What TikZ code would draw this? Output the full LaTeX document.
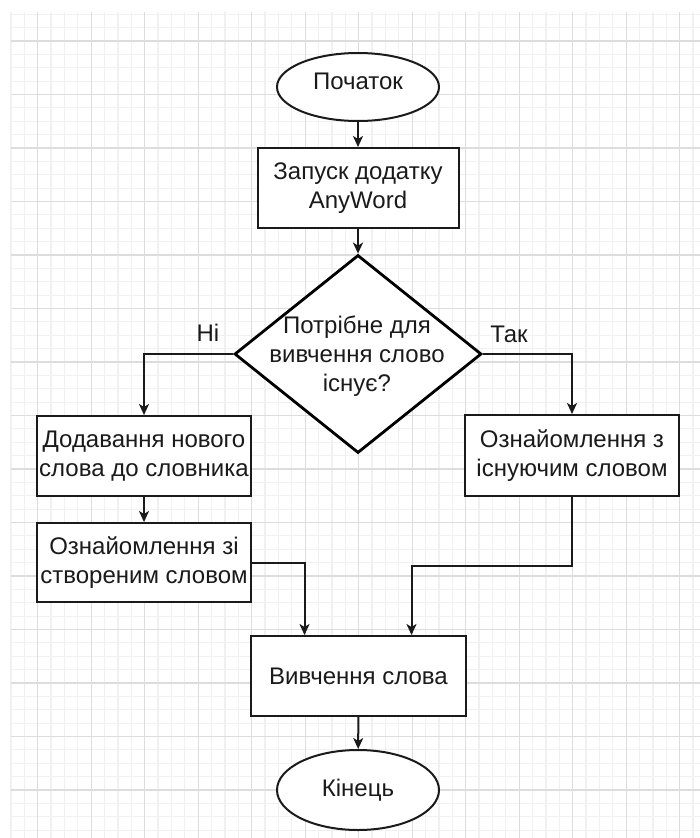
\documentclass[tikz,border=0pt]{standalone}
\usepackage{fontspec}
\setmainfont{Liberation Sans}
\usetikzlibrary{shapes.geometric,arrows.meta,calc}
\definecolor{minorgrid}{HTML}{F1F1F1}
\definecolor{majorgrid}{HTML}{DDDDDD}
\definecolor{ink}{HTML}{1A1A1A}
\tikzset{
  txt/.style={font=\fontsize{24}{29}\selectfont, text=ink, align=center},
  procbox/.style={draw=ink, line width=2pt, fill=white, rectangle, inner sep=0pt, txt},
  term/.style={draw=ink, line width=2pt, fill=white, ellipse, inner sep=0pt, txt},
  decide/.style={draw=black, line width=2.8pt, fill=white, diamond, inner sep=0pt},
  arr/.style={draw=ink, line width=2pt, -{Stealth[length=11pt,width=10pt,inset=3pt]}},
  minorline/.style={draw=minorgrid, line width=1.2pt},
  majorline/.style={draw=majorgrid, line width=1.2pt},
}
\begin{document}
\begin{tikzpicture}[x=1pt,y=-1pt]
\useasboundingbox (0,0) rectangle (700,838);
\fill[white] (0,0) rectangle (700,838);
% grid
\foreach \i in {0,...,51} {
  \draw[minorline] ({10.95+13.375*\i},12) -- ({10.95+13.375*\i},838);
}
\foreach \i in {0,...,61} {
  \draw[minorline] (11,{14.25+13.375*\i}) -- (700,{14.25+13.375*\i});
}
\foreach \i in {0,...,12} {
  \draw[majorline] ({37.7+53.5*\i},12) -- ({37.7+53.5*\i},838);
}
\foreach \i in {0,...,14} {
  \draw[majorline] (11,{41+53.5*\i}) -- (700,{41+53.5*\i});
}
% nodes
\node[term, minimum width=162pt, minimum height=68pt] (start) at (358,87) {};
\node[txt] (starttxt) at (358,81) {Початок};
\node[procbox, minimum width=201pt, minimum height=80pt] (b1) at (358,188) {Запуск додатку\\AnyWord};
\node[decide, minimum width=247pt, minimum height=198pt] (dia) at (358,354) {};
\node[txt] (diatxt) at (357,356) {Потрібне для\\вивчення слово\\існує?};
\node[procbox, minimum width=214pt, minimum height=80pt] (l1) at (144,456) {Додавання нового\\слова до словника};
\node[procbox, minimum width=214pt, minimum height=79pt] (l2) at (144,562.5) {Ознайомлення зі\\створеним словом};
\node[procbox, minimum width=214pt, minimum height=81pt] (r1) at (572,455.5) {Ознайомлення з\\існуючим словом};
\node[procbox, minimum width=215pt, minimum height=80pt] (bot) at (358.5,676) {Вивчення слова};
\node[term, minimum width=162pt, minimum height=80pt] (end) at (358,790) {Кінець};
\node[txt] (no) at (208,333) {Ні};
\node[txt] (yes) at (509,334) {Так};
\coordinate (jl) at (304.5,562.5);
\coordinate (jr) at (411.5,566);
% connectors
\draw[arr] (start) -- (b1);
\draw[arr] (b1) -- (dia);
\draw[arr] (dia.west) -| (l1.north);
\draw[arr] (dia.east) -| (r1.north);
\draw[arr] (l1) -- (l2);
\draw[arr] (l2.east) -- (jl) -- (jl |- bot.north);
\draw[arr] (r1.south) |- (jr) -- (jr |- bot.north);
\draw[arr] (bot) -- (end);
\end{tikzpicture}
\end{document}
